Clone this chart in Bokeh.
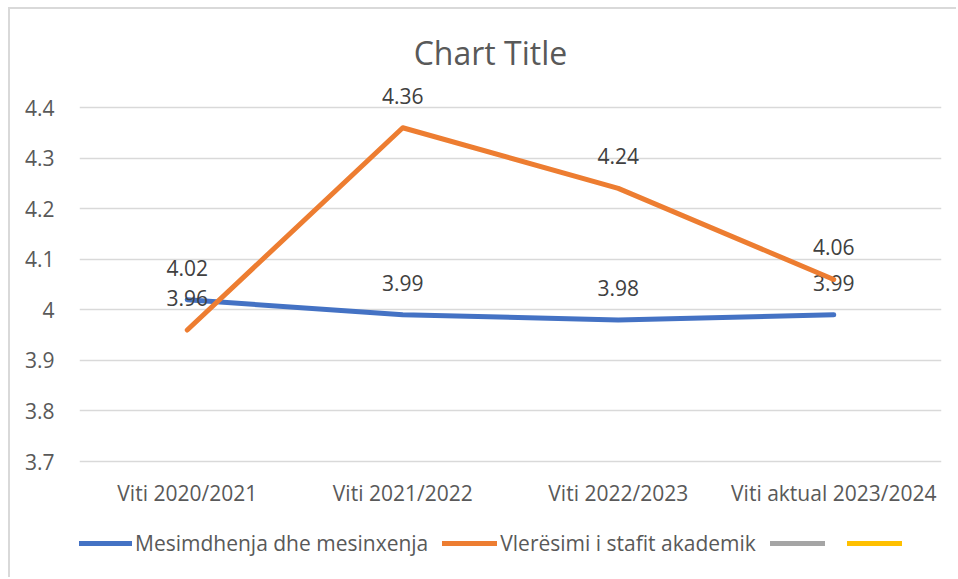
from bokeh.plotting import figure
from bokeh.models import (Range1d, FactorRange, FixedTicker, NumeralTickFormatter,
                          Legend, LegendItem, Label, ColumnDataSource)
from bokeh.core.properties import value
from bokeh.embed import file_html
from bokeh.resources import INLINE

categories = ["Viti 2020/2021", "Viti 2021/2022", "Viti 2022/2023", "Viti aktual 2023/2024"]
mesimdhenja = [4.02, 3.99, 3.98, 3.99]
vleresimi = [3.96, 4.36, 4.24, 4.06]
empty_series = [float("nan")] * 4
y_ticks = [3.7, 3.8, 3.9, 4.0, 4.1, 4.2, 4.3, 4.4]
series_names = ["Mesimdhenja dhe mesinxenja", "Vlerësimi i stafit akademik", "\u00a0", "\u00a0"]
series_colors = ["#4472C4", "#ED7D31", "#A5A5A5", "#FFC000"]

FONT = "Open Sans"
TXT = "#595959"
LBL = "#404040"

p = figure(width=948, height=570, output_backend="svg", toolbar_location=None,
           x_range=FactorRange(*categories, range_padding=0),
           y_range=Range1d(3.4667, 4.5938), title=None,
           min_border_left=69, min_border_right=17, min_border_top=0, min_border_bottom=0)
p.styles = {"margin-left": "8px", "margin-top": "7px",
            "border-left": "2px solid #D9D9D9", "border-top": "2px solid #D9D9D9"}
p.outline_line_color = None
p.background_fill_color = "white"
p.border_fill_color = "white"

p.xgrid.grid_line_color = None
p.ygrid.grid_line_color = "#D9D9D9"
p.ygrid.grid_line_width = 1.5
p.yaxis.ticker = FixedTicker(ticks=y_ticks)
p.yaxis.formatter = NumeralTickFormatter(format="0.[0]")
p.yaxis.axis_line_color = None
p.yaxis.major_tick_line_color = None
p.yaxis.minor_tick_line_color = None
p.yaxis.major_label_text_font = FONT
p.yaxis.major_label_text_font_size = "21px"
p.yaxis.major_label_text_color = TXT
p.yaxis.major_label_standoff = 19
p.xaxis.visible = False

cat_label_y = 3.6387
p.text(x=categories, y=[cat_label_y] * len(categories), text=categories,
       text_align="center", text_baseline="middle", text_font=value(FONT),
       text_font_size="21px", text_color=TXT)

src = ColumnDataSource(dict(
    cat=categories, a=mesimdhenja, b=vleresimi, c=empty_series,
    la=[f"{v:.2f}" for v in mesimdhenja], lb=[f"{v:.2f}" for v in vleresimi]))

r_a = p.line("cat", "a", source=src, line_color=series_colors[0], line_width=5,
             line_cap="round", line_join="round")
p.text("cat", "a", text="la", source=src, y_offset=-32, text_align="center",
       text_baseline="middle", text_font=value(FONT), text_font_size="21px",
       text_color=LBL)
p.text("cat", "b", text="lb", source=src, y_offset=-32, text_align="center",
       text_baseline="middle", text_font=value(FONT), text_font_size="21px",
       text_color=LBL)
r_b = p.line("cat", "b", source=src, line_color=series_colors[1], line_width=5,
             line_cap="round", line_join="round")
r_c = p.line("cat", "c", source=src, line_color=series_colors[2], line_width=5, line_cap="round")
r_d = p.line("cat", "c", source=src, line_color=series_colors[3], line_width=5, line_cap="round")

items = [LegendItem(label=value(n), renderers=[r]) for n, r in zip(series_names, [r_a, r_b, r_c, r_d])]
legend = Legend(items=items, orientation="horizontal", location=(-2, 22),
                glyph_width=55, glyph_height=22, label_height=22, label_width=0,
                label_standoff=3, spacing=14, padding=0, margin=0,
                border_line_color=None, background_fill_alpha=0,
                label_text_font=FONT, label_text_font_size="21px",
                label_text_color=TXT)
p.add_layout(legend, "center")

title = Label(x=1.907, y=4.5088, text="Chart Title", text_align="center",
              text_baseline="middle", text_font=FONT, text_font_size="32px",
              text_color=TXT)
p.add_layout(title)

open("out.html", "w").write(file_html(p, INLINE))
